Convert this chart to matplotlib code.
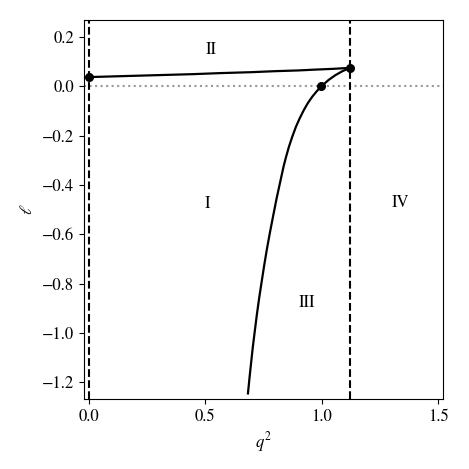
import matplotlib
matplotlib.use("Agg")
import matplotlib.pyplot as plt

plt.rcParams['font.family'] = ['STIXGeneral', 'Liberation Serif', 'DejaVu Serif']
plt.rcParams['mathtext.fontset'] = 'stix'
plt.rcParams['font.size'] = 12

# Upper boundary (I/II)
upper_q2 = [0.0, 0.15, 0.3, 0.45, 0.56, 0.7, 0.8, 0.9, 0.964, 1.05, 1.1216]
upper_l = [0.038, 0.042, 0.046, 0.050, 0.054, 0.058, 0.062, 0.065, 0.068, 0.0715, 0.0755]

# Lower boundary curve (I/III)
lower_q2 = [0.683, 0.690, 0.697, 0.704, 0.712, 0.721, 0.731, 0.742, 0.753, 0.765, 0.778, 0.792,
            0.806, 0.821, 0.836, 0.847, 0.859, 0.873, 0.889, 0.905, 0.923, 0.940, 0.959,
            0.978, 1.000, 1.029, 1.059, 1.089, 1.1216]
lower_l = [-1.246, -1.180, -1.118, -1.057, -0.996, -0.928, -0.860, -0.792, -0.725, -0.657, -0.590, -0.522,
           -0.455, -0.390, -0.325, -0.285, -0.245, -0.205, -0.164, -0.130, -0.096, -0.068, -0.042,
           -0.020, 0.002, 0.026, 0.046, 0.062, 0.0755]

# Marked points
pts_q2 = [0.0, 0.998, 1.1216]
pts_l = [0.038, 0.001, 0.0755]

# Vertical boundaries
vlines_q2 = [0.0, 1.1216]

# Region labels
region_names = ['I', 'II', 'III', 'IV']
region_q2 = [0.511, 0.524, 0.938, 1.339]
region_l = [-0.478, 0.147, -0.878, -0.474]

fig = plt.figure(figsize=(4.69, 4.69), dpi=100)
ax = fig.add_axes([0.179, 0.149, 0.9446 - 0.179, 0.957 - 0.149])

ax.axhline(0, color='#999999', linestyle=':', linewidth=1.5)
for v in vlines_q2:
    ax.axvline(v, color='black', linestyle='--', linewidth=1.5)
ax.plot(upper_q2, upper_l, color='black', linewidth=1.6)
ax.plot(lower_q2, lower_l, color='black', linewidth=1.6)
ax.plot(pts_q2, pts_l, 'o', color='black', markersize=5.5)

for name, x, y in zip(region_names, region_q2, region_l):
    ax.text(x, y, name, ha='center', va='center', fontsize=12)

ax.set_xlim(-0.0215, 1.521)
ax.set_ylim(-1.269, 0.269)
ax.set_xticks([0.0, 0.5, 1.0, 1.5])
ax.set_yticks([-1.2, -1.0, -0.8, -0.6, -0.4, -0.2, 0.0, 0.2])
ax.set_xlabel(r'$q^2$')
ax.set_ylabel(r'$\ell$')

fig.savefig('out.png', dpi=100)
